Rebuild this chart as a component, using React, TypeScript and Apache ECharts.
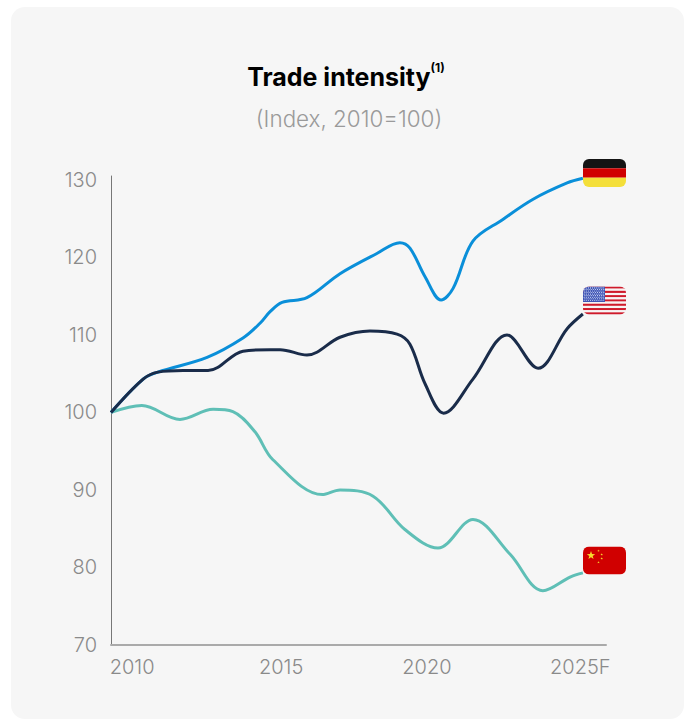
import React, { useEffect, useRef } from "react";
import * as echarts from "echarts";

const FONT = "Inter, 'Noto Sans', sans-serif";

const germanyYears = [2010, 2011.02, 2011.49, 2013.05, 2014.19, 2014.73, 2015.05, 2015.43, 2016.22, 2017.27, 2018.44, 2019.17, 2019.49, 2019.97, 2020.48, 2020.86, 2021.49, 2022.44, 2023.4, 2024.48, 2024.98];
const germanyValues = [100, 104.3, 105.2, 107.1, 109.6, 111.5, 113, 114.2, 114.8, 117.9, 120.5, 121.9, 121.2, 117.5, 114.5, 116, 122.1, 124.9, 127.5, 129.6, 130.2];

const usaYears = [2010, 2011.02, 2011.49, 2012.29, 2013.08, 2014.19, 2015.05, 2015.37, 2016.22, 2017.27, 2018.22, 2019.08, 2019.49, 2019.97, 2020.56, 2021.49, 2022.57, 2023.56, 2024.48, 2024.98];
const usaValues = [100, 104.3, 105.2, 105.4, 105.4, 107.9, 108.1, 108.1, 107.4, 109.7, 110.5, 110.1, 108.8, 103.7, 99.9, 104.3, 110, 105.7, 110.8, 112.7];

const chinaYears = [2010, 2010.98, 2012.19, 2013.24, 2013.87, 2014.57, 2015.14, 2016.71, 2017.27, 2018.32, 2019.33, 2020.38, 2021.49, 2022.67, 2023.71, 2024.59, 2024.98];
const chinaValues = [100, 100.9, 99.1, 100.4, 100.1, 97.5, 93.9, 89.4, 90, 89.2, 84.9, 82.5, 86.2, 81.7, 77, 78.8, 79.3];

const yTicks = [70, 80, 90, 100, 110, 120, 130];
const xLabelValues = [2010.67, 2015.4, 2020.03, 2024.9];
const xLabelTexts = ["2010", "2015", "2020", "2025F"];

const svgUri = (s: string) => "data:image/svg+xml;charset=utf-8," + encodeURIComponent(s);
const wrap = (body: string) =>
  `<svg xmlns="http://www.w3.org/2000/svg" width="43" height="28" viewBox="0 0 43 28"><defs><clipPath id="c"><rect width="43" height="28" rx="6" ry="6"/></clipPath></defs><g clip-path="url(#c)">${body}</g></svg>`;

const germanyFlag = svgUri(
  wrap(`<rect width="43" height="9.3" fill="#141414"/><rect y="9.3" width="43" height="9.4" fill="#d00000"/><rect y="18.7" width="43" height="9.3" fill="#f4df3a"/>`)
);

const usStripes = Array.from({ length: 13 }, (_, i) =>
  `<rect y="${(i * 28) / 13}" width="43" height="${28 / 13}" fill="${i % 2 === 0 ? "#cf1a2b" : "#f7f3f3"}"/>`
).join("");
const usStars = Array.from({ length: 9 }, (_, r) =>
  Array.from({ length: 10 }, (_, c) =>
    `<circle cx="${1.2 + c * 2.1 + (r % 2) * 0.7}" cy="${1.4 + r * 1.55}" r="0.55" fill="#dfe6fb"/>`
  ).join("")
).join("");
const usaFlag = svgUri(wrap(`${usStripes}<rect width="22" height="15.5" fill="#3f55b5"/>${usStars}`));

const star = (cx: number, cy: number, r: number) => {
  const pts: string[] = [];
  for (let i = 0; i < 10; i++) {
    const a = -Math.PI / 2 + (i * Math.PI) / 5;
    const q = i % 2 === 0 ? r : r * 0.4;
    pts.push(`${cx + q * Math.cos(a)},${cy + q * Math.sin(a)}`);
  }
  return `<polygon points="${pts.join(" ")}" fill="#f6dc2e"/>`;
};
const chinaFlag = svgUri(
  wrap(`<rect width="43" height="28" fill="#d00000"/>${star(8, 9, 4.4)}${star(15.5, 4.3, 1.3)}${star(18.7, 8, 1.3)}${star(18.7, 12, 1.3)}${star(15.5, 15.8, 1.3)}`)
);

const zip = (xs: number[], ys: number[]) => xs.map((x, i) => [x, ys[i]]);

const line = (name: string, xs: number[], ys: number[], color: string, z: number) => ({
  name,
  type: "line" as const,
  data: zip(xs, ys),
  smooth: 0.35,
  showSymbol: false,
  symbol: "none",
  z,
  lineStyle: { color, width: 3 },
});

export default function App() {
  const ref = useRef<HTMLDivElement>(null);
  useEffect(() => {
    document.body.style.margin = "0";
    document.body.style.background = "#ffffff";
    const chart = echarts.init(ref.current!, undefined, { renderer: "svg" });
    chart.setOption({
      animation: false,
      title: [
        {
          text: "{a|Trade intensity}{b|(1)}",
          left: 341,
          top: 56,
          textAlign: "center",
          textStyle: {
            rich: {
              a: { fontFamily: FONT, fontSize: 25, fontWeight: 700, color: "#000000", lineHeight: 32 },
              b: { fontFamily: FONT, fontSize: 12, fontWeight: 700, color: "#000000", verticalAlign: "top", lineHeight: 24 },
            },
          },
        },
        {
          text: "(Index, 2010=100)",
          left: 344,
          top: 102,
          textAlign: "center",
          textStyle: { fontFamily: FONT, fontSize: 22.4, fontWeight: 300, color: "#9a9a9a" },
        },
      ],
      grid: { left: 111, top: 176, width: 495, height: 469, containLabel: false },
      xAxis: {
        type: "value",
        min: 2010,
        max: 2025.714,
        splitLine: { show: false },
        axisTick: { show: false },
        axisLine: { show: true, onZero: false, lineStyle: { color: "#aaaaaa", width: 2 } },
        axisLabel: {
          customValues: xLabelValues,
          hideOverlap: false,
          formatter: (v: number) => xLabelTexts[xLabelValues.indexOf(v)] ?? "",
          fontFamily: FONT,
          fontSize: 20,
          fontWeight: 300,
          color: "#8a8a8a",
          margin: 12,
        },
      },
      yAxis: {
        type: "value",
        min: 70,
        max: 130.5,
        splitLine: { show: false },
        axisTick: { show: false },
        axisLine: { show: true, lineStyle: { color: "#777777", width: 1 } },
        axisLabel: {
          customValues: yTicks,
          fontFamily: FONT,
          fontSize: 20,
          fontWeight: 300,
          color: "#8a8a8a",
          margin: 14,
        },
      },
      series: [
        line("China", chinaYears, chinaValues, "#5fbfb6", 2),
        line("Germany", germanyYears, germanyValues, "#0a8fd9", 3),
        line("USA", usaYears, usaValues, "#1a2c4a", 4),
      ],
      graphic: [
        { type: "rect", z: -10, silent: true, shape: { x: 11, y: 7, width: 673, height: 712, r: 14 }, style: { fill: "#f6f6f6" } },
        { type: "image", z: 10, style: { image: germanyFlag, x: 583, y: 159, width: 43, height: 28 } },
        { type: "image", z: 10, style: { image: usaFlag, x: 583, y: 286, width: 43, height: 29 } },
        { type: "image", z: 10, style: { image: chinaFlag, x: 583, y: 546, width: 43, height: 29 } },
      ],
    });
    return () => chart.dispose();
  }, []);
  return <div ref={ref} style={{ width: 688, height: 720, position: "absolute", left: 0, top: 0 }} />;
}
